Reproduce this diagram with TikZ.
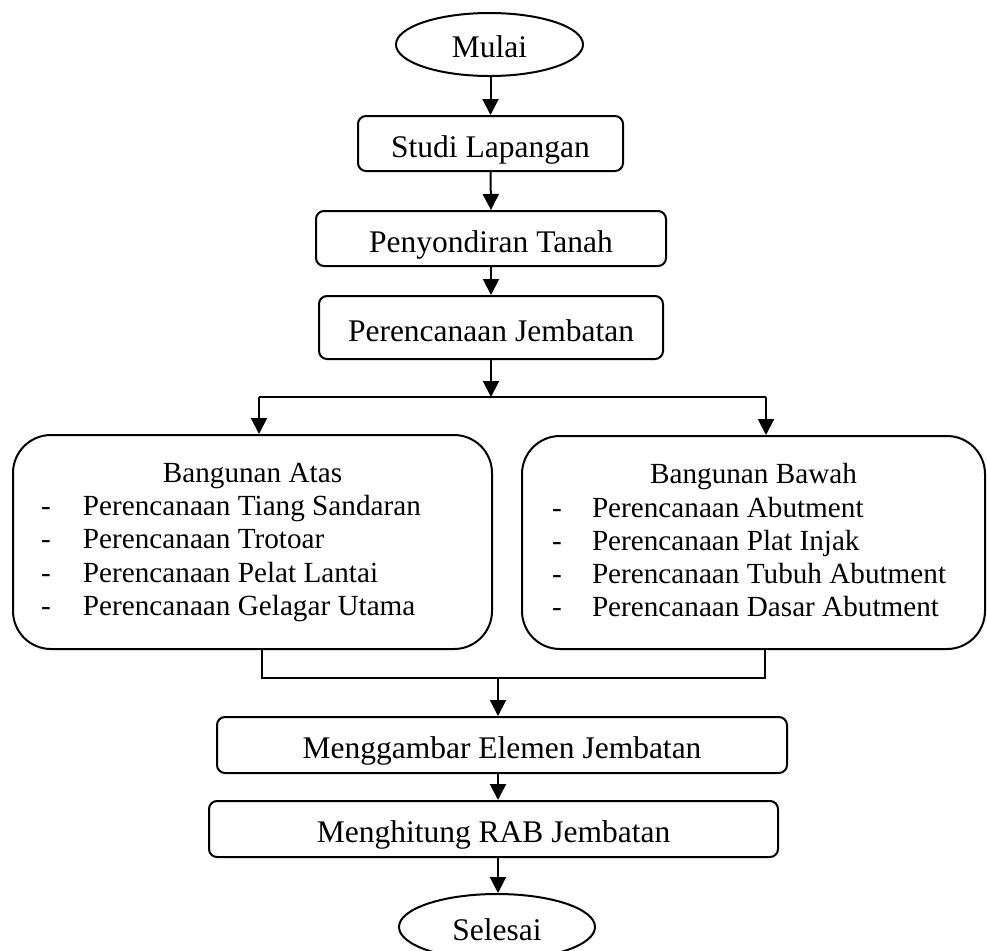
\documentclass[tikz,border=0pt]{standalone}
\usepackage{fontspec}
\setmainfont{Liberation Serif}
\usetikzlibrary{arrows.meta,shapes.geometric}
\begin{document}
\begin{tikzpicture}[x=0.5pt,y=-0.5pt, line width=1pt,
  arr/.style={-{Triangle[width=8pt,length=8pt]}},
  pbox/.style={draw, rounded corners=4pt, inner sep=0pt, text height=13.5pt, text depth=0pt, font=\fontsize{15.75}{18}\selectfont},
  term/.style={draw, ellipse, inner sep=0pt, text height=13pt, text depth=0pt, font=\fontsize{15.75}{18}\selectfont},
  bigbox/.style={draw, rounded corners=19pt, inner sep=0pt},
  btxt/.style={anchor=base, inner sep=0pt, font=\fontsize{14.6}{16.6}\selectfont},
  bitem/.style={anchor=base west, inner sep=0pt, font=\fontsize{14.6}{16.6}\selectfont}
]
\useasboundingbox (0,0) rectangle (987,950);

\node[term, minimum width=93.5pt, minimum height=31.5pt] (mulai) at (489.5,44.5) {Mulai};
\node[pbox, minimum width=132.5pt, minimum height=27.5pt] (studi) at (490.5,143.5) {Studi Lapangan};
\node[pbox, minimum width=175pt, minimum height=27.5pt] (pen) at (491,238.5) {Penyondiran Tanah};
\node[pbox, minimum width=172pt, minimum height=31.5pt] (per) at (491,327.5) {Perencanaan Jembatan};

\node[bigbox, minimum width=239.5pt, minimum height=107pt] (atas) at (252.5,542) {};
\node[bigbox, minimum width=231.5pt, minimum height=106.5pt] (bawah) at (753.5,542.5) {};

\node[btxt] (atasT) at (252.5,482) {Bangunan Atas};
\foreach \n/\yy/\t in {1/515/Perencanaan Tiang Sandaran,2/548/Perencanaan Trotoar,3/582/Perencanaan Pelat Lantai,4/615/Perencanaan Gelagar Utama}{
  \node[bitem] (atasD\n) at (40,\yy) {-};
  \node[bitem] (atas\n) at (82,\yy) {\t};
}
\node[btxt] (bawahT) at (753.5,483) {Bangunan Bawah};
\foreach \n/\yy/\t in {1/517/Perencanaan Abutment,2/550/Perencanaan Plat Injak,3/583/Perencanaan Tubuh Abutment,4/616/Perencanaan Dasar Abutment}{
  \node[bitem] (bawahD\n) at (551,\yy) {-};
  \node[bitem] (bawah\n) at (591,\yy) {\t};
}

\node[pbox, minimum width=285pt, minimum height=28pt] (gambar) at (502,745) {Menggambar Elemen Jembatan};
\node[pbox, minimum width=284.5pt, minimum height=28pt] (hitung) at (493.5,829) {Menghitung RAB Jembatan};
\node[term, minimum width=98pt, minimum height=33pt] (selesai) at (497,927) {Selesai};

\coordinate (split) at (491,397);
\coordinate (splitL) at (259,397);
\coordinate (splitR) at (766,397);
\coordinate (joinL) at (262,678);
\coordinate (joinR) at (765,678);
\coordinate (joinM) at (498,678);

\draw[arr] (mulai.south -| studi.north) -- (studi.north);
\draw[arr] (studi.south) -- (pen.north);
\draw[arr] (pen.south) -- (per.north);
\draw[arr] (per.south) -- (split);
\draw (splitL) -- (splitR);
\draw[arr] (splitL) -- (atas.north -| splitL);
\draw[arr] (splitR) -- (bawah.north -| splitR);
\draw (atas.south -| joinL) -- (joinL) -- (joinR) -- (bawah.south -| joinR);
\draw[arr] (joinM) -- (gambar.north -| joinM);
\draw[arr] (gambar.south -| joinM) -- (hitung.north -| joinM);
\draw[arr] (hitung.south -| joinM) -- (selesai.north -| joinM);
\end{tikzpicture}
\end{document}
